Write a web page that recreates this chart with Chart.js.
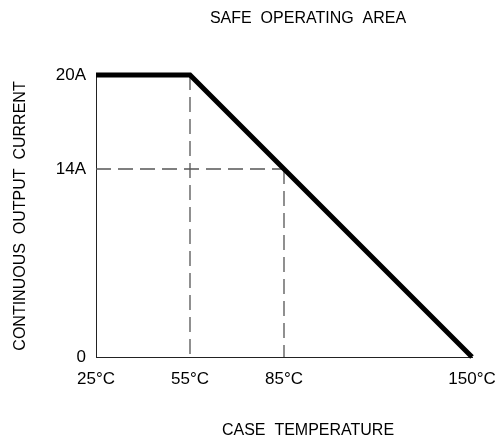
<!DOCTYPE html>
<html><head><meta charset="utf-8">
<script src="https://cdn.jsdelivr.net/npm/chart.js@4"></script>
<style>html,body{margin:0;padding:0;background:#fff}#wrap{width:499px;height:438px;position:relative}</style>
</head><body><div id="wrap"><canvas id="c"></canvas></div>
<script>
const chartTitle = 'SAFE  OPERATING  AREA';
const xAxisTitle = 'CASE  TEMPERATURE';
const yAxisTitle = 'CONTINUOUS  OUTPUT  CURRENT';
const temperatureLabels = ['25°C', '55°C', '85°C', '', '150°C'];
const currentLabels = ['20A', '14A', '', '0'];
const curveTemps = ['25°C', '55°C', '85°C', '150°C'];
const curveCurrents = ['20A', '20A', '14A', '0'];
const guide55Temps = ['55°C', '55°C'];
const guide55Currents = ['20A', '0'];
const guide85Temps = ['85°C', '85°C'];
const guide85Currents = ['14A', '0'];
const guide14Temps = ['25°C', '85°C'];
const guide14Currents = ['14A', '14A'];

const FONT = '"Liberation Sans", Arial, sans-serif';
const pts = (xs, ys) => xs.map((x, i) => ({x: x, y: ys[i]}));

const textPlugin = {
  id: 'texts',
  afterDraw(chart) {
    const ctx = chart.ctx;
    ctx.save();
    ctx.fillStyle = '#000';
    ctx.textAlign = 'center';
    ctx.textBaseline = 'alphabetic';
    ctx.font = '16px ' + FONT;
    ctx.fillText(chartTitle, 308, 23);
    ctx.fillText(xAxisTitle, 308, 435);
    ctx.translate(25, 216);
    ctx.rotate(-Math.PI / 2);
    ctx.fillText(yAxisTitle, 0, 0);
    ctx.restore();
  }
};

const guideStyle = {borderColor: '#555', borderWidth: 1.3, borderDash: [15, 7], pointRadius: 0, fill: false, tension: 0, clip: false};

new Chart(document.getElementById('c'), {
  type: 'line',
  data: {
    datasets: [
      {data: pts(curveTemps, curveCurrents), borderColor: '#000', borderWidth: 5, pointRadius: 0, fill: false, tension: 0, clip: false, borderJoinStyle: 'miter'},
      Object.assign({data: pts(guide55Temps, guide55Currents)}, guideStyle),
      Object.assign({data: pts(guide85Temps, guide85Currents)}, guideStyle),
      Object.assign({data: pts(guide14Temps, guide14Currents)}, guideStyle)
    ]
  },
  options: {
    responsive: true,
    maintainAspectRatio: false,
    animation: false,
    layout: {padding: {left: 0, top: 75, right: 27, bottom: 0}},
    plugins: {legend: {display: false}, tooltip: {enabled: false}, title: {display: false}},
    scales: {
      x: {
        type: 'category',
        labels: temperatureLabels,
        offset: false,
        grid: {display: false, drawTicks: false},
        border: {display: true, color: '#222', width: 1},
        ticks: {color: '#000', font: {family: FONT, size: 17}, padding: 12, autoSkip: false, maxRotation: 0},
        afterFit(scale) { scale.height = 81; scale.paddingLeft = 0; scale.paddingRight = 0; }
      },
      y: {
        type: 'category',
        labels: currentLabels,
        offset: false,
        grid: {display: false, drawTicks: false},
        border: {display: true, color: '#222', width: 1},
        ticks: {color: '#000', font: {family: FONT, size: 17}, padding: 10, autoSkip: false},
        afterFit(scale) { scale.width = 96; scale.paddingTop = 0; scale.paddingBottom = 0; }
      }
    }
  },
  plugins: [textPlugin]
});
</script>
</body></html>
